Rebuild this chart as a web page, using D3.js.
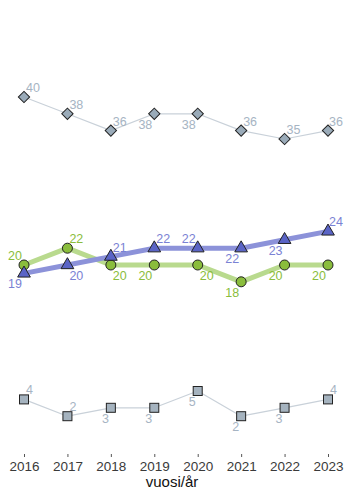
<!DOCTYPE html>
<html><head><meta charset="utf-8">
<script src="https://cdn.jsdelivr.net/npm/d3@7/dist/d3.min.js"></script>
<style>body{margin:0;background:#fff}svg{display:block;font-family:"Liberation Sans",Arial,sans-serif}</style>
</head><body>
<svg id="c" width="344" height="490"></svg>
<script>
const years = [2016, 2017, 2018, 2019, 2020, 2021, 2022, 2023];
const seriesTop = [40, 38, 36, 38, 38, 36, 35, 36];
const seriesBlue = [19, 20, 21, 22, 22, 22, 23, 24];
const seriesGreen = [20, 22, 20, 20, 20, 18, 20, 20];
const seriesBottom = [4, 2, 3, 3, 5, 2, 3, 4];
const titleText = "Tyytyväisyys yleisesti";
const xTitle = "vuosi/år";

// label placement (ne = above-right, sw = below-left, se = below-right, nw = above-left)
const placeTop = ["ne","ne","ne","sw","sw","ne","ne","ne"];
const placeBlue = ["sw","se","ne","ne","nw","sw","sw","ne"];
const placeGreen = ["nw","ne","se","sw","se","sw","sw","sw"];
const placeBottom = ["ne","ne","sw","sw","sw","sw","sw","ne"];

const W = 344;
const svg = d3.select("#c");
const x = d3.scalePoint().domain(years).range([24, 328]);
const y = d3.scaleLinear().domain([0, 40]).range([433, 97]);

svg.append("text").attr("x", 172).attr("y", -3).attr("text-anchor", "middle")
  .attr("font-size", 15).attr("font-weight", "bold").attr("fill", "#222").text(titleText);

const axis = d3.axisBottom(x).tickSize(3).tickPadding(4).tickSizeOuter(0);
const ag = svg.append("g").attr("transform", "translate(0,454)").call(axis);
ag.select(".domain").remove();
ag.selectAll(".tick line").attr("stroke", "#555");
ag.selectAll(".tick text").attr("font-size", 13.5).attr("fill", "#3a3a3a")
  .attr("font-family", "Liberation Sans, Arial, sans-serif");
svg.append("text").attr("x", 172).attr("y", 487).attr("text-anchor", "middle")
  .attr("font-size", 15).attr("fill", "#111").text(xTitle);

function drawLine(vals, color, width) {
  const line = d3.line().x((d, i) => x(years[i])).y(d => y(d));
  svg.append("path").datum(vals).attr("d", line).attr("fill", "none")
    .attr("stroke", color).attr("stroke-width", width).attr("stroke-linejoin", "round");
}
function drawMarkers(vals, symType, size, fill) {
  svg.append("g").selectAll("path").data(vals).join("path")
    .attr("transform", (d, i) => `translate(${x(years[i])},${y(d)})`)
    .attr("d", d3.symbol().type(symType).size(size))
    .attr("fill", fill).attr("stroke", "#222").attr("stroke-width", 1);
}
function drawLabels(vals, places, color) {
  const t = svg.append("g").selectAll("text").data(vals).join("text")
    .attr("x", (d, i) => x(years[i]) + (places[i][1] === "e" ? 2 : -2))
    .attr("y", (d, i) => y(d) + (places[i][0] === "n" ? -5 : 15))
    .attr("text-anchor", (d, i) => places[i][1] === "e" ? "start" : "end")
    .attr("font-size", 12.5).attr("fill", color).text(d => d);
  t.each(function () {
    const bb = this.getBBox();
    if (bb.x + bb.width > W - 1) {
      d3.select(this).attr("text-anchor", "end").attr("x", W - 1);
    }
  });
}

// top series
drawLine(seriesTop, "#c9d1d9", 1.2);
svg.append("g").selectAll("rect").data(seriesTop).join("rect")
  .attr("x", -4).attr("y", -4).attr("width", 8).attr("height", 8)
  .attr("transform", (d, i) => `translate(${x(years[i])},${y(d)}) rotate(45)`)
  .attr("fill", "#9aabb9").attr("stroke", "#222").attr("stroke-width", 1);
drawLabels(seriesTop, placeTop, "#a6b4c3");

// bottom series
drawLine(seriesBottom, "#c9d1d9", 1.2);
svg.append("g").selectAll("rect").data(seriesBottom).join("rect")
  .attr("x", 0).attr("y", 0).attr("width", 9).attr("height", 9)
  .attr("transform", (d, i) => `translate(${x(years[i]) - 4.5},${y(d) - 4.5})`)
  .attr("fill", "#a5b3bf").attr("stroke", "#222").attr("stroke-width", 1);
drawLabels(seriesBottom, placeBottom, "#a6b4c3");

// green series
drawLine(seriesGreen, "#b9da8e", 5);
drawMarkers(seriesGreen, d3.symbolCircle, Math.PI * 25, "#8abd3c");
drawLabels(seriesGreen, placeGreen, "#8abd3c");

// blue series
drawLine(seriesBlue, "#8c92d9", 5);
drawMarkers(seriesBlue, d3.symbolTriangle, 70, "#5a64c6");
drawLabels(seriesBlue, placeBlue, "#7a82d4");
</script>
</body></html>
